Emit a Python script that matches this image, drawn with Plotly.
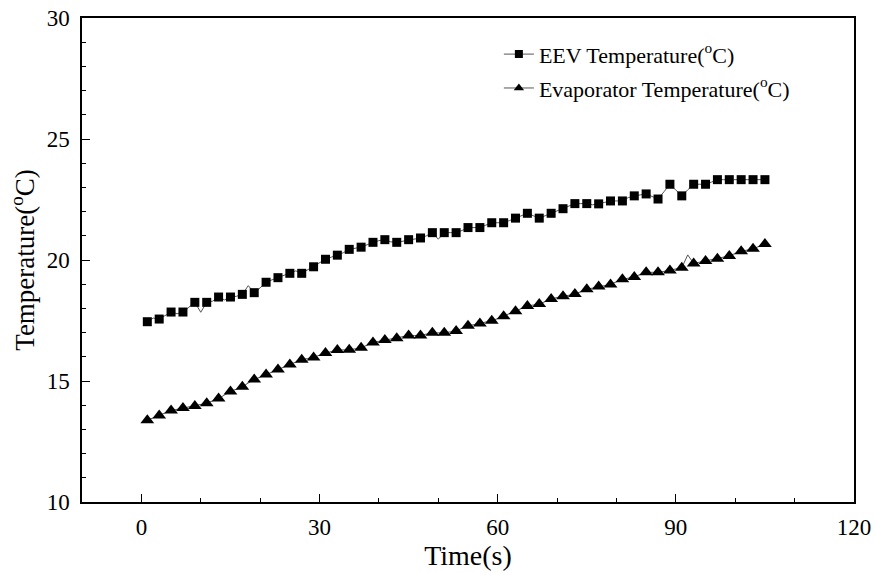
import plotly.graph_objects as go

time_s = list(range(1, 106))

eev_temp = [
    17.45, 17.60, 17.56, 17.70, 17.85, 17.78, 17.85, 18.05, 18.25, 17.84,
    18.25, 18.30, 18.47, 18.35, 18.47, 18.50, 18.58, 18.94, 18.65, 18.85,
    19.08, 19.18, 19.27, 19.35, 19.45, 19.55, 19.45, 19.60, 19.72, 19.88,
    20.03, 20.12, 20.20, 20.30, 20.44, 20.48, 20.53, 20.63, 20.73, 20.80,
    20.84, 20.75, 20.73, 20.78, 20.84, 20.88, 20.91, 21.00, 21.13, 20.86,
    21.13, 21.13, 21.13, 21.22, 21.34, 21.34, 21.34, 21.44, 21.54, 21.54,
    21.54, 21.63, 21.73, 21.83, 21.93, 21.83, 21.73, 21.83, 21.93, 22.02,
    22.12, 22.22, 22.33, 22.33, 22.33, 22.28, 22.32, 22.38, 22.44, 22.44,
    22.44, 22.58, 22.65, 22.69, 22.73, 22.62, 22.52, 22.82, 23.13, 22.89,
    22.65, 22.90, 23.13, 23.13, 23.13, 23.22, 23.32, 23.32, 23.32, 23.32,
    23.32, 23.32, 23.32, 23.32, 23.32,
]

evap_temp = [
    13.38, 13.47, 13.57, 13.68, 13.78, 13.83, 13.88, 13.92, 13.97, 14.02,
    14.08, 14.18, 14.28, 14.42, 14.57, 14.66, 14.76, 14.92, 15.06, 15.16,
    15.27, 15.37, 15.48, 15.58, 15.68, 15.78, 15.88, 15.93, 15.97, 16.07,
    16.16, 16.22, 16.28, 16.28, 16.29, 16.33, 16.37, 16.48, 16.59, 16.64,
    16.69, 16.73, 16.77, 16.82, 16.88, 16.88, 16.88, 16.94, 16.99, 16.99,
    16.99, 17.03, 17.07, 17.18, 17.28, 17.33, 17.38, 17.43, 17.49, 17.58,
    17.68, 17.78, 17.88, 17.99, 18.10, 18.14, 18.18, 18.28, 18.39, 18.45,
    18.50, 18.55, 18.59, 18.69, 18.79, 18.84, 18.90, 18.95, 18.99, 19.10,
    19.20, 19.25, 19.30, 19.40, 19.49, 19.49, 19.49, 19.53, 19.57, 19.62,
    19.68, 20.21, 19.86, 19.91, 19.96, 20.00, 20.05, 20.11, 20.17, 20.27,
    20.36, 20.41, 20.46, 20.56, 20.66,
]

series_names = ["EEV Temperature(<sup>o</sup>C)", "Evaporator Temperature(<sup>o</sup>C)"]
x_title = "Time(s)"
y_title = "Temperature(<sup>o</sup>C)"

FONT = "Liberation Serif, Times New Roman, serif"
LINE_COLOR = "#555555"

fig = go.Figure()

# thin connecting lines through every sample
for ys in (eev_temp, evap_temp):
    fig.add_trace(go.Scatter(x=time_s, y=ys, mode="lines",
                             line=dict(color=LINE_COLOR, width=1),
                             showlegend=False, hoverinfo="skip"))

# markers on every other sample
fig.add_trace(go.Scatter(x=time_s[::2], y=eev_temp[::2], mode="markers",
                         marker=dict(symbol="square", size=9, color="black"),
                         showlegend=False))
fig.add_trace(go.Scatter(x=time_s[::2], y=evap_temp[::2], mode="markers",
                         marker=dict(symbol="triangle-up", size=12, color="black"),
                         showlegend=False))

# legend entries
fig.add_trace(go.Scatter(x=[None], y=[None], mode="lines+markers", name=series_names[0],
                         line=dict(color=LINE_COLOR, width=1),
                         marker=dict(symbol="square", size=8, color="black"),
                         legend="legend"))
fig.add_trace(go.Scatter(x=[None], y=[None], mode="lines+markers", name=series_names[1],
                         line=dict(color=LINE_COLOR, width=1),
                         marker=dict(symbol="triangle-up", size=9, color="black"),
                         legend="legend2"))

TICKFONT = dict(family=FONT, size=23, color="black")

axis_common = dict(
    showline=True, linecolor="black", linewidth=1.5, mirror=True,
    showgrid=False, zeroline=False, automargin=False,
    ticks="inside", ticklen=8, tickwidth=1.3, tickcolor="black",
)

fig.update_xaxes(
    range=[-10, 120], tick0=0, dtick=30,
    minor=dict(dtick=10, tick0=0, ticks="inside", ticklen=4, tickwidth=1.2, tickcolor="black", showgrid=False),
    title=dict(text=x_title, font=dict(family=FONT, size=28, color="black"), standoff=6),
    tickfont=TICKFONT,
    ticklabelstandoff=4,
    **axis_common,
)
fig.update_yaxes(
    range=[10, 30], tick0=10, dtick=5,
    minor=dict(dtick=1, tick0=10, ticks="inside", ticklen=4, tickwidth=1.2, tickcolor="black", showgrid=False),
    title=dict(text=y_title, font=dict(family=FONT, size=27, color="black"), standoff=4),
    tickfont=TICKFONT,
    ticklabelstandoff=6,
    **axis_common,
)

legend_common = dict(
    bgcolor="rgba(0,0,0,0)", borderwidth=0,
    font=dict(family=FONT, size=22, color="black"),
    xanchor="left", yanchor="middle", x=0.54,
)

fig.update_layout(
    width=877, height=573,
    margin=dict(l=82, r=23, t=18, b=71, autoexpand=False),
    paper_bgcolor="white", plot_bgcolor="white",
    font=dict(family=FONT, size=22, color="black"),
    legend=dict(y=0.925, **legend_common),
    legend2=dict(y=0.855, **legend_common),
)

fig.write_html(
    "out.html",
    config={"displayModeBar": False},
    post_script="document.body.style.margin='0';document.body.style.overflow='hidden';",
)
